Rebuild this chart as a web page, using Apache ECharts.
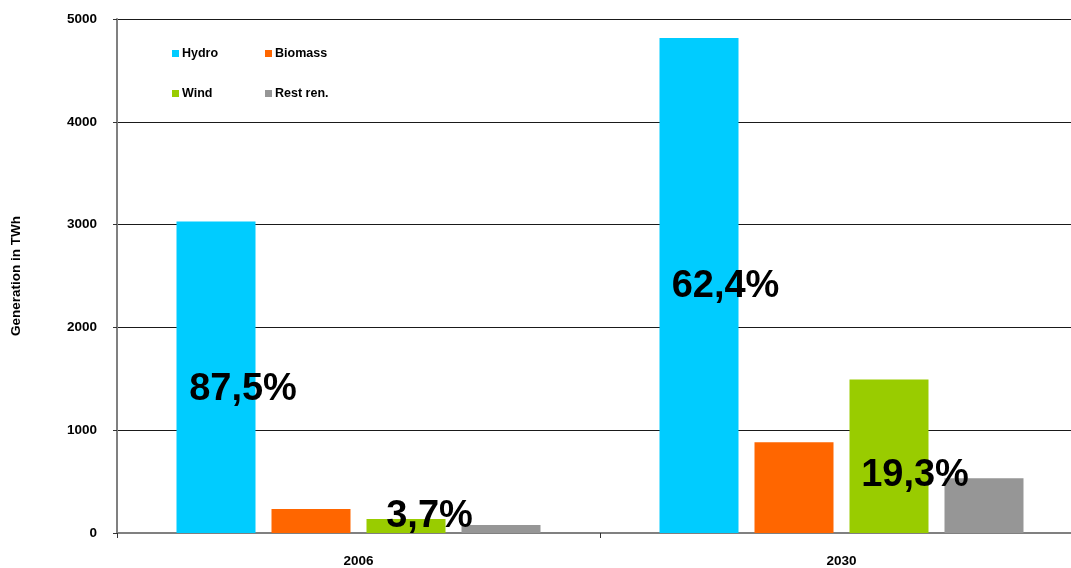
<!DOCTYPE html>
<html>
<head>
<meta charset="utf-8">
<script src="https://cdn.jsdelivr.net/npm/echarts@6/dist/echarts.min.js"></script>
<style>
  html, body { margin: 0; padding: 0; background: #fff; overflow: hidden; }
  /* the plot runs slightly past the right edge of the window */
  #chart { width: 1083px; height: 568px; }
</style>
</head>
<body>
<div id="chart"></div>
<script>
// Renewable electricity generation by source, TWh
const years = ['2006', '2030'];
const hydro = [3030, 4815];
const biomass = [233, 882];
const wind = [136, 1492];
const restRen = [78, 533];

// Share labels shown on the chart
const hydroShare = ['87,5%', '62,4%'];
const windShare = ['3,7%', '19,3%'];

const yTicks = { min: 0, max: 5000, interval: 1000 };

const FONT = '"Liberation Sans", Arial, sans-serif';
const colors = { hydro: '#00CCFF', biomass: '#FF6600', wind: '#99CC00', rest: '#969696' };

const shareLabel = {
  show: true,
  position: 'inside',
  color: '#000',
  fontFamily: FONT,
  fontWeight: 'bold',
  fontSize: 38
};

function withLabels(values, shares, offsets) {
  return values.map((v, i) => ({
    value: v,
    label: Object.assign({}, shareLabel, { formatter: shares[i], offset: offsets[i] })
  }));
}

function legendAt(name, left, top) {
  return {
    data: [name],
    left: left,
    top: top,
    padding: 0,
    icon: 'rect',
    itemWidth: 7,
    itemHeight: 7,
    selectedMode: false,
    textStyle: { fontFamily: FONT, fontWeight: 'bold', fontSize: 12.5, color: '#000', padding: [0, 0, 0, -2] }
  };
}

const axisText = { fontFamily: FONT, fontWeight: 'bold', fontSize: 13.5, color: '#000' };

const chart = echarts.init(document.getElementById('chart'), null, { renderer: 'canvas' });

chart.setOption({
  animation: false,
  backgroundColor: '#fff',
  legend: [
    legendAt('Hydro', 172, 47),
    legendAt('Biomass', 265, 47),
    legendAt('Wind', 172, 87),
    legendAt('Rest ren.', 265, 87)
  ],
  grid: { left: 117, top: 19, right: 0, bottom: 33, containLabel: false },
  xAxis: {
    type: 'category',
    data: years,
    axisLine: { lineStyle: { color: '#808080', width: 2 } },
    axisTick: { show: true, length: 5, lineStyle: { color: '#333', width: 1 } },
    axisLabel: Object.assign({ margin: 21 }, axisText)
  },
  yAxis: {
    type: 'value',
    min: yTicks.min,
    max: yTicks.max,
    interval: yTicks.interval,
    name: 'Generation in TWh',
    nameLocation: 'middle',
    nameGap: 94,
    nameRotate: 90,
    nameTextStyle: axisText,
    axisLine: { show: true, lineStyle: { color: '#808080', width: 2 } },
    axisTick: { show: true, length: 4, inside: false, lineStyle: { color: '#333' } },
    axisLabel: Object.assign({ margin: 20, formatter: v => String(v) }, axisText),
    splitLine: { show: true, lineStyle: { color: '#1a1a1a', width: 1 } }
  },
  series: [
    {
      name: 'Hydro', type: 'bar', barWidth: 79, barGap: '20.25%',
      itemStyle: { color: colors.hydro },
      data: withLabels(hydro, hydroShare, [[27, 12], [26.5, 1]])
    },
    {
      name: 'Biomass', type: 'bar', barWidth: 79, barGap: '20.25%',
      itemStyle: { color: colors.biomass },
      data: biomass
    },
    {
      name: 'Wind', type: 'bar', barWidth: 79, barGap: '20.25%', z: 3,
      itemStyle: { color: colors.wind },
      data: withLabels(wind, windShare, [[23.5, -9.5], [26, 19.5]])
    },
    {
      name: 'Rest ren.', type: 'bar', barWidth: 79, barGap: '20.25%',
      itemStyle: { color: colors.rest },
      data: restRen
    }
  ]
});
</script>
</body>
</html>
